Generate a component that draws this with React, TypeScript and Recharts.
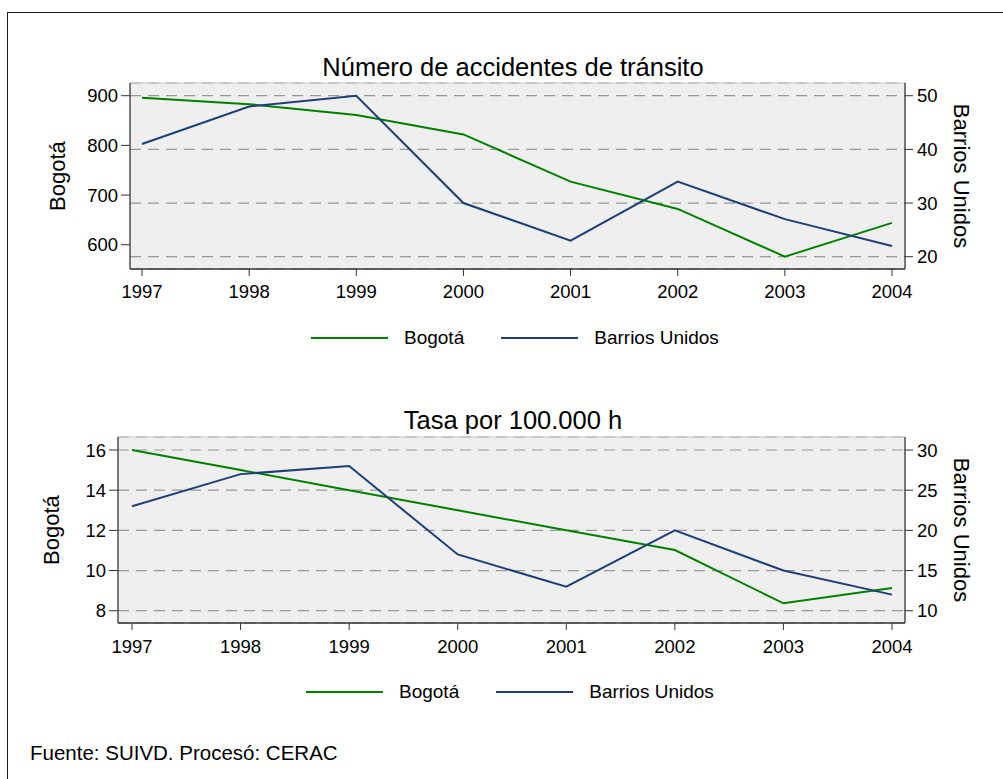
import { LineChart, Line, XAxis, YAxis, CartesianGrid, ReferenceLine } from "recharts";

const years = [1997, 1998, 1999, 2000, 2001, 2002, 2003, 2004];

// Número de accidentes de tránsito
const accidentesBogota = [896, 883, 861, 822, 727, 672, 576, 644];
const accidentesBarrios = [41, 48, 50, 30, 23, 34, 27, 22];

// Tasa por 100.000 h
const tasaBogota = [16, 15, 14, 13, 12, 11.02, 8.37, 9.13];
const tasaBarrios = [23, 27, 28, 17, 13, 20, 15, 12];

const accLeftTicks = [600, 700, 800, 900];
const accRightTicks = [20, 30, 40, 50];
const tasaLeftTicks = [8, 10, 12, 14, 16];
const tasaRightTicks = [10, 15, 20, 25, 30];

const seriesNames = ["Bogotá", "Barrios Unidos"];
const seriesColors = ["#008000", "#1f3f77"];

const FONT = '"Liberation Sans", Arial, Helvetica, sans-serif';
const AXIS = "#333";

const accRows = years.map((year, i) => ({
  year,
  bogota: accidentesBogota[i],
  barrios: accidentesBarrios[i],
}));

const tasaRows = years.map((year, i) => ({
  year,
  bogota: tasaBogota[i],
  barrios: tasaBarrios[i],
}));

// rotated axis title; x is the text baseline
function AxisTitle(props: any) {
  const { viewBox, text, x, rotate } = props;
  const cy = viewBox.y + viewBox.height / 2;
  return (
    <text
      x={x}
      y={cy}
      textAnchor="middle"
      transform={`rotate(${rotate}, ${x}, ${cy})`}
      fontSize={22}
      fill="#000"
    >
      {text}
    </text>
  );
}

function Panel(props: any) {
  const {
    rows,
    leftDomain,
    leftTicks,
    rightDomain,
    rightTicks,
    leftWidth,
    marginTop,
    height,
    xAxisHeight,
    padLeft,
    tickGap,
  } = props;
  return (
    <LineChart
      width={1003}
      height={height}
      data={rows}
      margin={{ top: marginTop, right: 0, bottom: 0, left: 0 }}
    >
      <CartesianGrid
        yAxisId="right"
        vertical={false}
        fill="#efefef"
        fillOpacity={1}
        stroke="#999"
        strokeWidth={1.2}
        strokeDasharray="11 7"
      />
      <XAxis
        dataKey="year"
        type="number"
        domain={[1997, 2004]}
        ticks={years}
        interval={0}
        padding={{ left: padLeft, right: 13 }}
        height={xAxisHeight}
        tickSize={7}
        tickMargin={tickGap}
        axisLine={{ stroke: AXIS, strokeWidth: 1.3 }}
        tickLine={{ stroke: AXIS }}
        tick={{ fill: "#000", fontSize: 18.5 }}
      />
      <YAxis
        yAxisId="left"
        domain={leftDomain}
        ticks={leftTicks}
        interval={0}
        allowDataOverflow
        width={leftWidth}
        tickSize={9}
        tickMargin={3}
        axisLine={{ stroke: AXIS, strokeWidth: 1.3 }}
        tickLine={{ stroke: AXIS }}
        tick={{ fill: "#000", fontSize: 18.5 }}
        label={<AxisTitle text="Bogotá" x={64} rotate={-90} />}
      />
      <YAxis
        yAxisId="right"
        orientation="right"
        domain={rightDomain}
        ticks={rightTicks}
        interval={0}
        allowDataOverflow
        width={98}
        tickSize={8}
        tickMargin={4}
        axisLine={{ stroke: AXIS, strokeWidth: 1.3 }}
        tickLine={{ stroke: AXIS }}
        tick={{ fill: "#000", fontSize: 18.5 }}
        label={<AxisTitle text="Barrios Unidos" x={955} rotate={90} />}
      />
      <ReferenceLine yAxisId="left" y={leftDomain[1]} stroke="#c4c4c4" strokeWidth={1} />
      <Line
        yAxisId="left"
        type="linear"
        dataKey="bogota"
        name={seriesNames[0]}
        stroke={seriesColors[0]}
        strokeWidth={2}
        dot={false}
        isAnimationActive={false}
      />
      <Line
        yAxisId="right"
        type="linear"
        dataKey="barrios"
        name={seriesNames[1]}
        stroke={seriesColors[1]}
        strokeWidth={2}
        dot={false}
        isAnimationActive={false}
      />
    </LineChart>
  );
}

function LegendRow({ left, top }: { left: number; top: number }) {
  return (
    <div
      style={{
        position: "absolute",
        left,
        top,
        height: 24,
        display: "flex",
        alignItems: "center",
        fontSize: 19,
        color: "#000",
        whiteSpace: "nowrap",
      }}
    >
      {seriesNames.map((n, i) => (
        <div
          key={n}
          style={{ display: "flex", alignItems: "center", marginRight: i === 0 ? 37 : 0 }}
        >
          <svg width={77} height={4} style={{ display: "block" }}>
            <line x1={0} x2={77} y1={2} y2={2} stroke={seriesColors[i]} strokeWidth={2} />
          </svg>
          <span style={{ marginLeft: 16 }}>{n}</span>
        </div>
      ))}
    </div>
  );
}

const titleStyle = (top: number): any => ({
  position: "absolute",
  left: 0,
  top,
  width: 1026,
  textAlign: "center",
  fontSize: 25.5,
  lineHeight: "25.5px",
  color: "#000",
  whiteSpace: "nowrap",
});

export default function App() {
  return (
    <div
      style={{
        position: "fixed",
        left: 0,
        top: 0,
        width: 1003,
        height: 779,
        overflow: "hidden",
        background: "#fff",
        fontFamily: FONT,
      }}
    >
      <div
        style={{
          position: "absolute",
          left: 7,
          top: 12,
          width: 1003,
          height: 800,
          border: "1.5px solid #1a1a1a",
          boxSizing: "border-box",
        }}
      />
      <div style={titleStyle(55.4)}>Número de accidentes de tránsito</div>
      <div style={{ position: "absolute", left: 0, top: 0 }}>
        <Panel
          rows={accRows}
          leftDomain={[551.1, 925.6]}
          leftTicks={accLeftTicks}
          rightDomain={[17.71, 52.37]}
          rightTicks={accRightTicks}
          leftWidth={130}
          marginTop={83}
          height={312}
          xAxisHeight={43}
          padLeft={12}
          tickGap={9}
        />
      </div>
      <LegendRow left={311} top={326} />

      <div style={titleStyle(408.4)}>Tasa por 100.000 h</div>
      <div style={{ position: "absolute", left: 0, top: 400 }}>
        <Panel
          rows={tasaRows}
          leftDomain={[7.388, 16.647]}
          leftTicks={tasaLeftTicks}
          rightDomain={[8.47, 31.62]}
          rightTicks={tasaRightTicks}
          leftWidth={118}
          marginTop={37}
          height={267}
          xAxisHeight={44}
          padLeft={14}
          tickGap={10}
        />
      </div>
      <LegendRow left={306} top={679.5} />

      <div
        style={{
          position: "absolute",
          left: 30,
          top: 742.6,
          fontSize: 20.5,
          lineHeight: "20.5px",
          color: "#000",
          whiteSpace: "nowrap",
        }}
      >
        Fuente: SUIVD. Procesó: CERAC
      </div>
    </div>
  );
}
